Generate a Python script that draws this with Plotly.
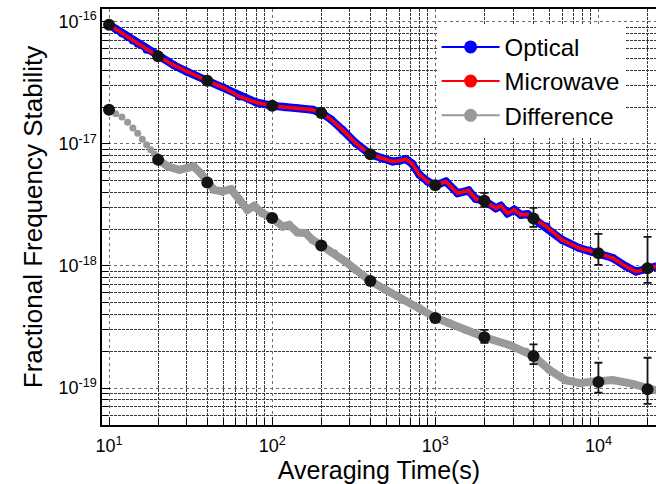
import plotly.graph_objects as go

# ---- continuous Allan-deviation curves ----
opt_tau = [10, 11, 12, 13, 14, 15, 17, 20, 25, 30, 40, 50, 63, 80, 100, 120, 140, 177, 200,
           230, 270, 326, 400, 470, 547, 600, 660, 720, 800, 900, 1000, 1160, 1370, 1600,
           1770, 2000, 2350, 2520, 2770, 3050, 3350, 3680, 4000, 4800, 6000, 7640, 8810,
           10000, 12250, 14800, 17000, 20000, 22400]
opt_val = [9.45e-17, 8.7e-17, 8.05e-17, 7.5e-17, 7.0e-17, 6.6e-17, 5.9e-17, 5.2e-17, 4.4e-17,
           3.9e-17, 3.28e-17, 2.9e-17, 2.44e-17, 2.18e-17, 2.05e-17, 1.99e-17, 1.96e-17,
           1.90e-17, 1.79e-17, 1.58e-17, 1.30e-17, 1.01e-17, 8.2e-18, 7.63e-18, 7.16e-18,
           7.25e-18, 7.49e-18, 6.9e-18, 5.57e-18, 4.9e-18, 4.57e-18, 4.91e-18, 3.94e-18,
           4.14e-18, 3.54e-18, 3.41e-18, 2.97e-18, 3.10e-18, 2.70e-18, 2.88e-18, 2.62e-18,
           2.65e-18, 2.44e-18, 2.10e-18, 1.63e-18, 1.40e-18, 1.33e-18, 1.27e-18, 1.16e-18,
           9.87e-19, 8.98e-19, 9.5e-19, 9.87e-19]
mw_tau = list(opt_tau)
mw_val = list(opt_val)

diff_tau = [10, 11, 12, 13, 14, 15, 16, 17, 18, 19, 20, 23, 27, 31, 33, 36.5, 40, 44, 49.5,
            56, 63, 70.5, 77.6, 87, 100, 116, 127, 143, 161, 177, 200, 240, 283, 326, 400,
            498, 630, 800, 1000, 1220, 1540, 2000, 2840, 3600, 4000, 5000, 6300, 7640,
            10000, 12250, 16200, 22400]
diff_val = [1.90e-17, 1.76e-17, 1.66e-17, 1.50e-17, 1.35e-17, 1.22e-17, 1.09e-17, 9.8e-18,
            8.93e-18, 8.24e-18, 7.40e-18, 6.52e-18, 6.12e-18, 6.40e-18, 6.52e-18, 5.75e-18,
            4.82e-18, 4.20e-18, 4.07e-18, 4.25e-18, 3.48e-18, 2.88e-18, 3.10e-18, 2.70e-18,
            2.47e-18, 2.10e-18, 2.17e-18, 1.88e-18, 1.85e-18, 1.63e-18, 1.47e-18, 1.27e-18,
            1.08e-18, 9.27e-19, 7.53e-19, 6.36e-19, 5.26e-19, 4.50e-19, 3.78e-19, 3.39e-19,
            2.99e-19, 2.60e-19, 2.25e-19, 1.98e-19, 1.83e-19, 1.41e-19, 1.16e-19, 1.10e-19,
            1.13e-19, 1.16e-19, 1.08e-19, 9.6e-20]

# ---- discrete points with error bars ----
pt_tau = [10, 20, 40, 100, 200, 400, 1000, 2000, 4000, 10000, 20000]
opt_pt = [9.45e-17, 5.2e-17, 3.28e-17, 2.05e-17, 1.79e-17, 8.2e-18, 4.57e-18, 3.41e-18,
          2.44e-18, 1.27e-18, 9.57e-19]
opt_hi = [9.7e-17, 5.35e-17, 3.38e-17, 2.11e-17, 1.84e-17, 8.5e-18, 4.8e-18, 3.96e-18,
          2.99e-18, 1.83e-18, 1.73e-18]
opt_lo = [9.2e-17, 5.05e-17, 3.18e-17, 1.99e-17, 1.74e-17, 7.9e-18, 4.35e-18, 3.05e-18,
          2.09e-18, 1.02e-18, 7.26e-19]
diff_pt = [1.90e-17, 7.40e-18, 4.82e-18, 2.47e-18, 1.47e-18, 7.53e-19, 3.75e-19, 2.60e-19,
           1.83e-19, 1.12e-19, 9.76e-20]
diff_hi = [1.95e-17, 7.6e-18, 4.95e-18, 2.54e-18, 1.52e-18, 7.8e-19, 3.98e-19, 2.99e-19,
           2.28e-19, 1.61e-19, 1.77e-19]
diff_lo = [1.85e-17, 7.2e-18, 4.7e-18, 2.40e-18, 1.42e-18, 7.3e-19, 3.45e-19, 2.34e-19,
           1.57e-19, 9.15e-20, 7.4e-20]

x_ticks = [10, 100, 1000, 10000]
x_ticktext = ["10<sup>1</sup>", "10<sup>2</sup>", "10<sup>3</sup>", "10<sup>4</sup>"]
y_ticks = [1e-19, 1e-18, 1e-17, 1e-16]
y_ticktext = ["10<sup>-19</sup>", "10<sup>-18</sup>", "10<sup>-17</sup>", "10<sup>-16</sup>"]

FONT = "Liberation Sans, Arial, sans-serif"
BLUE, RED, GREY, BLACK = "#0000ff", "#ff0000", "#999999", "#141414"

fig = go.Figure()

# Optical (blue, wide)
fig.add_trace(go.Scatter(x=opt_tau, y=opt_val, mode="lines+markers", showlegend=False,
                         line=dict(color=BLUE, width=8), marker=dict(color=BLUE, size=8)))
# Microwave (red, narrow on top)
fig.add_trace(go.Scatter(x=mw_tau, y=mw_val, mode="lines+markers", showlegend=False,
                         line=dict(color=RED, width=3.5), marker=dict(color=RED, size=3.5)))
# Difference (grey): discrete dots at short tau, continuous band afterwards
early = [i for i, t in enumerate(diff_tau) if t <= 20]
late = [i for i, t in enumerate(diff_tau) if t >= 20]
fig.add_trace(go.Scatter(x=[diff_tau[i] for i in early], y=[diff_val[i] for i in early],
                         mode="markers", showlegend=False,
                         marker=dict(color=GREY, size=7)))
fig.add_trace(go.Scatter(x=[diff_tau[i] for i in late], y=[diff_val[i] for i in late],
                         mode="lines+markers", showlegend=False,
                         line=dict(color=GREY, width=8), marker=dict(color=GREY, size=8)))


def err_trace(y, hi, lo):
    return go.Scatter(
        x=pt_tau, y=y, mode="markers", showlegend=False,
        marker=dict(color=BLACK, size=12),
        error_y=dict(type="data", symmetric=False,
                     array=[h - v for h, v in zip(hi, y)],
                     arrayminus=[v - l for v, l in zip(y, lo)],
                     color=BLACK, thickness=1.8, width=4))


fig.add_trace(err_trace(opt_pt, opt_hi, opt_lo))
fig.add_trace(err_trace(diff_pt, diff_hi, diff_lo))

# legend entries
for name, col in [("Optical", BLUE), ("Microwave", RED), ("Difference", GREY)]:
    fig.add_trace(go.Scatter(x=[None], y=[None], mode="lines+markers", name=name,
                             line=dict(color=col, width=2), marker=dict(color=col, size=13)))

minor_x = [m * 10 ** e for e in range(0, 5) for m in range(2, 10)]
minor_y = [m * 10.0 ** e for e in range(-20, -15) for m in range(2, 10)]

axis_common = dict(
    type="log", showline=True, linecolor="black", linewidth=1.5,
    ticks="inside", ticklen=8, tickwidth=1, tickcolor="black",
    showgrid=True, gridcolor="#6e6e6e", gridwidth=1, griddash="dot",
    tickfont=dict(family=FONT, size=18, color="black"),
    zeroline=False,
)
minor_common = dict(tickmode="array", ticks="inside", ticklen=6, tickcolor="black",
                    showgrid=True, gridcolor="#383838", gridwidth=1, griddash="3px,1px")

fig.update_layout(
    width=656, height=484,
    margin=dict(l=102, r=0, t=9, b=59),
    paper_bgcolor="white", plot_bgcolor="white",
    font=dict(family=FONT, color="black"),
    xaxis=dict(**axis_common, range=[0.957, 4.353], mirror=True,
               tickmode="array", tickvals=x_ticks, ticktext=x_ticktext,
               ticklabelstandoff=4,
               minor=dict(**minor_common, tickvals=minor_x),
               title=dict(text="Averaging Time(s)", font=dict(family=FONT, size=25),
                          standoff=4)),
    yaxis=dict(**axis_common, range=[-19.303, -15.896], mirror=False,
               tickmode="array", tickvals=y_ticks, ticktext=y_ticktext,
               minor=dict(**minor_common, tickvals=minor_y),
               title=dict(text="Fractional Frequency Stability",
                          font=dict(family=FONT, size=26), standoff=8)),
    legend=dict(x=0.604, y=0.962, xanchor="left", yanchor="top",
                bgcolor="white", borderwidth=0,
                font=dict(family=FONT, size=24, color="black"),
                itemwidth=58, tracegroupgap=0),
)

fig.write_html("out.html")
